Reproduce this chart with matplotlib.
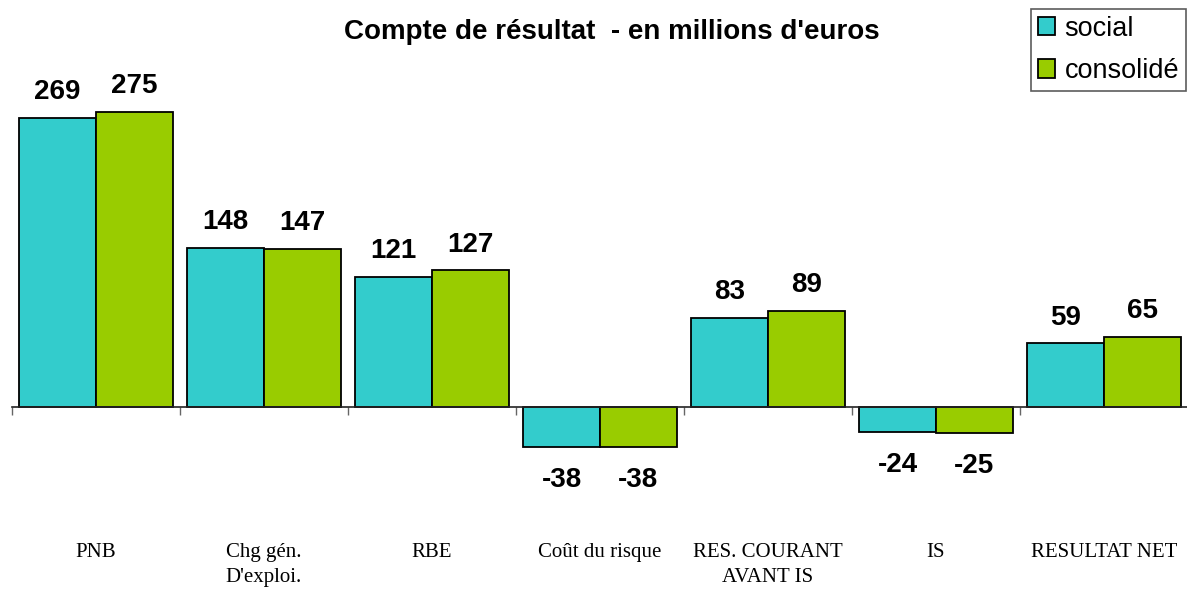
import numpy as np
import matplotlib.pyplot as plt
import matplotlib.transforms as mtransforms
from matplotlib.patches import Patch

categories = ['PNB', 'Chg gén.\nD\'exploi.', 'RBE', 'Coût du risque',
              'RES. COURANT\nAVANT IS', 'IS', 'RESULTAT NET']
social = [269, 148, 121, -38, 83, -24, 59]
consolide = [275, 147, 127, -38, 89, -25, 65]
series_names = ['social', 'consolidé']

c_social = '#33CCCC'
c_conso = '#99CC00'

fig = plt.figure(figsize=(11.87, 5.90), dpi=100)
W, H = 1187, 590
# axes: x from 12px to 1188px, y from -60 (471px) to 300 (85px)
ax = fig.add_axes([12 / W, 1 - 471 / H, 1176 / W, (471 - 85) / H])
ax.set_xlim(-0.5, 6.5)
ax.set_ylim(-60, 300)

x = np.arange(len(categories))
bw = 0.458
b1 = ax.bar(x - bw / 2, social, bw, color=c_social, edgecolor='black', linewidth=1.3, zorder=2)
b2 = ax.bar(x + bw / 2, consolide, bw, color=c_conso, edgecolor='black', linewidth=1.3, zorder=2)

for bars, vals in ((b1, social), (b2, consolide)):
    for r, v in zip(bars, vals):
        cx = r.get_x() + r.get_width() / 2
        if v >= 0:
            ax.annotate(str(v), (cx, v), xytext=(0, 13.5), textcoords='offset points',
                        ha='center', va='baseline', fontsize=20, fontweight='bold',
                        family='Liberation Sans')
        else:
            ax.annotate(str(v), (cx, v), xytext=(0, -14), textcoords='offset points',
                        ha='center', va='top', fontsize=20, fontweight='bold',
                        family='Liberation Sans')

# axis line at zero with ticks between categories
for s in ['left', 'right', 'top']:
    ax.spines[s].set_visible(False)
ax.spines['bottom'].set_position(('data', 0))
ax.spines['bottom'].set_color('#222222')
ax.spines['bottom'].set_linewidth(1.2)
ax.set_yticks([])
ax.set_xticks(np.arange(-0.5, 7, 1))
ax.set_xticklabels([])
ax.tick_params(axis='x', direction='out', length=6, width=1, color='#666666')

# category labels below the chart
trans = mtransforms.blended_transform_factory(ax.transData, fig.transFigure)
for xi, lab in zip(x, categories):
    ax.text(xi, 1 - 543 / H, lab, transform=trans,
            ha='center', va='top', fontsize=15, family='Liberation Serif', linespacing=1.45)

fig.text(612 / W, 1 - 32 / H, "Compte de résultat  - en millions d'euros", ha='center', va='center',
         fontsize=20, fontweight='bold', family='Liberation Sans')

handles = [Patch(facecolor=c_social, edgecolor='black', linewidth=1.3),
           Patch(facecolor=c_conso, edgecolor='black', linewidth=1.3)]
leg = fig.legend(handles, series_names, loc='upper right', bbox_to_anchor=(1186 / W, 1 - 9 / H),
                 bbox_transform=fig.transFigure, frameon=True, fancybox=False,
                 handlelength=0.65, handleheight=0.65, handletextpad=0.35, borderpad=0.25,
                 labelspacing=0.6, borderaxespad=0,
                 prop={'family': 'Liberation Sans', 'size': 19.5})
leg.get_frame().set_edgecolor('#333333')
leg.get_frame().set_linewidth(1.2)

fig.savefig('out.png', dpi=100)
